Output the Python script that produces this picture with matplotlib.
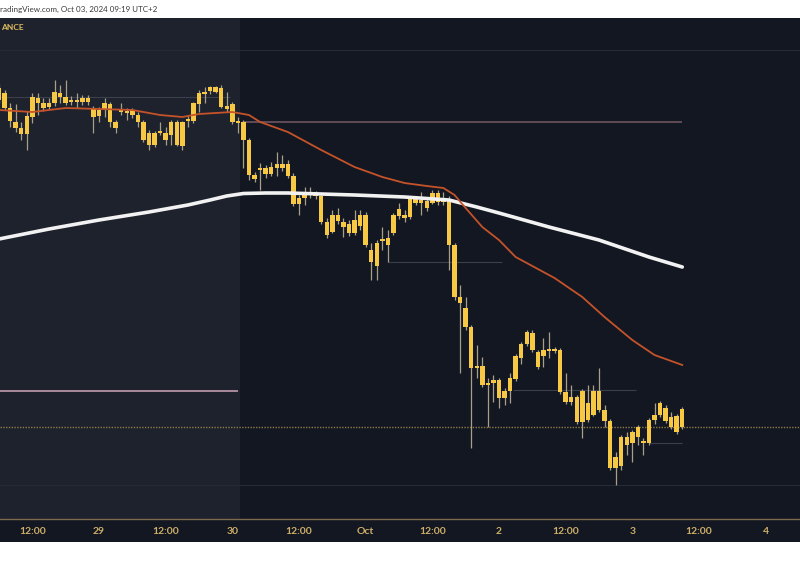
import matplotlib
matplotlib.use("Agg")
import matplotlib.pyplot as plt
from matplotlib.patches import Rectangle

# ---- data: hourly candles, hours counted from Sep 29 00:00 (UTC+2) ----
hours = list(range(-18, 106))
opens = [63000, 63070, 62920, 62780, 62720, 62660, 62830, 63020, 62970, 62930,
         62970, 63070, 63030, 62980, 63000, 62980, 63020, 62910, 62840, 62900,
         62960, 62780, 62880, 62890, 62900, 62850, 62780, 62670, 62550, 62670,
         62670, 62650, 62780, 62540, 62790, 62790, 62960, 63060, 63090, 63130,
         63120, 62940, 62960, 62790, 62780, 62600, 62250, 62300, 62320, 62260,
         62320, 62360, 62360, 62240, 61960, 62020, 62070, 62060, 62040, 61780,
         61680, 61850, 61780, 61760, 61670, 61740, 61850, 61500, 61340, 61590,
         61620, 61670, 61840, 61850, 61830, 62010, 61970, 61990, 61970, 62070,
         61980, 62000, 61550, 61030, 60920, 60730, 60320, 60340, 60150, 60170,
         60200, 60020, 60090, 60210, 60420, 60560, 60670, 60480, 60440, 60500,
         60490, 60500, 60080, 59980, 60030, 59780, 59970, 59850, 60090, 59900,
         59790, 59320, 59340, 59630, 59570, 59630, 59590, 59570, 59800, 59850,
         59920, 59830, 59840, 59730]
highs = [63160, 63100, 62970, 62960, 62780, 62890, 63070, 63070, 63020, 63020,
         63200, 63150, 63200, 63040, 63070, 63050, 63050, 62940, 62930, 63020,
         62980, 62800, 62970, 62920, 62920, 62880, 62800, 62700, 62690, 62780,
         62730, 62800, 62800, 62790, 62840, 62980, 63100, 63130, 63140, 63140,
         63150, 63080, 62980, 62830, 62800, 62620, 62280, 62370, 62350, 62380,
         62480, 62450, 62400, 62270, 62050, 62130, 62130, 62090, 62060, 61820,
         61900, 61920, 61820, 61800, 61900, 61900, 61880, 61570, 61600, 61730,
         61700, 61870, 61970, 61900, 62040, 62040, 62080, 62020, 62100, 62100,
         62080, 62040, 61570, 61150, 61030, 60750, 60550, 60430, 60220, 60250,
         60220, 60120, 60270, 60460, 60580, 60700, 60700, 60500, 60620, 60680,
         60530, 60520, 60270, 60150, 60050, 60110, 60150, 60150, 60320, 59950,
         59810, 59480, 59650, 59680, 59700, 59750, 59620, 59820, 59970, 59990,
         59950, 59880, 59860, 59930]
lows = [62970, 62900, 62730, 62680, 62600, 62500, 62770, 62850, 62890, 62910,
        62940, 62970, 62950, 62950, 62920, 62950, 62950, 62670, 62780, 62830,
        62730, 62670, 62850, 62800, 62820, 62730, 62580, 62500, 62530, 62650,
        62550, 62550, 62540, 62500, 62730, 62770, 62880, 62970, 63060, 63070,
        62920, 62880, 62760, 62670, 62320, 62200, 62180, 62100, 62220, 62240,
        62240, 62290, 62220, 61940, 61850, 61950, 62020, 62010, 61760, 61620,
        61670, 61760, 61630, 61640, 61650, 61700, 61530, 61200, 61200, 61500,
        61380, 61650, 61810, 61780, 61810, 61950, 61850, 61890, 61960, 61950,
        61950, 61300, 61000, 60270, 60700, 59520, 60220, 60130, 59730, 59980,
        59920, 59950, 59970, 60190, 60360, 60540, 60480, 60310, 60330, 60420,
        60470, 60060, 59960, 59950, 59760, 59620, 59780, 59840, 59880, 59730,
        59300, 59150, 59300, 59450, 59380, 59550, 59450, 59550, 59760, 59830,
        59770, 59710, 59660, 59710]
closes = [63120, 62920, 62790, 62720, 62660, 62840, 63030, 62970, 62920, 62970,
          63080, 63030, 62970, 63000, 62980, 63020, 62980, 62830, 62900, 62970,
          62780, 62720, 62900, 62870, 62850, 62780, 62600, 62550, 62670, 62690,
          62600, 62780, 62550, 62780, 62810, 62970, 63070, 63080, 63130, 63080,
          62930, 62910, 62780, 62770, 62600, 62250, 62210, 62320, 62260, 62330,
          62360, 62320, 62240, 61960, 62020, 62070, 62060, 62040, 61780, 61650,
          61850, 61790, 61730, 61670, 61800, 61850, 61550, 61380, 61570, 61610,
          61550, 61850, 61910, 61820, 62020, 61970, 62000, 61920, 62070, 61980,
          62020, 61550, 61030, 60970, 60730, 60320, 60340, 60150, 60170, 60200,
          60020, 60090, 60220, 60440, 60560, 60680, 60500, 60330, 60500, 60490,
          60500, 60080, 59980, 60030, 59780, 60090, 59800, 60090, 59900, 59790,
          59320, 59430, 59630, 59550, 59680, 59730, 59570, 59800, 59850, 59970,
          59790, 59730, 59680, 59910]

# moving averages
ema50_hours = [-18, -12, -6, 0, 6, 11, 15, 18, 24, 27, 29, 34, 40, 46, 51, 55,
               59, 62, 64, 66, 69, 72, 75, 82, 87, 91, 96, 100, 105]
ema50_vals = [62900, 62880, 62920, 62910, 62900, 62850, 62830, 62860, 62880,
              62850, 62780, 62680, 62500, 62330, 62230, 62170, 62140, 62120,
              62050, 61920, 61730, 61600, 61430, 61220, 61030, 60830, 60600,
              60450, 60350]
ema200_hours = [-18, -9, 0, 9, 16, 20, 23, 26, 30, 34, 46, 55, 63, 68, 72, 81,
                90, 99, 105]
ema200_vals = [61610, 61710, 61800, 61880, 61950, 62000, 62040, 62065, 62070,
               62070, 62050, 62030, 62000, 61930, 61870, 61730, 61600, 61430,
               61330]

tick_hours = [-12, 0, 12, 24, 36, 48, 60, 72, 84, 96, 108, 120]
tick_labels = ['12:00', '29', '12:00', '30', '12:00', 'Oct', '12:00', '2',
               '12:00', '3', '12:00', '4']

# reference levels
level_upper = 62785
level_left = 60095
level_dotted = 59730
grid_levels = [63500, 59150]
faint_segments = [(63030, -18, 23.6), (61380, 52, 72.5), (60100, 74.5, 96.6),
                  (59570, 99, 105)]

# ---- figure ----
W, H = 800, 566
fig = plt.figure(figsize=(W / 100, H / 100), dpi=100)
fig.patch.set_facecolor('white')


def fy(py):
    return 1 - py / H


fig.patches.append(Rectangle((0, fy(542)), 1, fy(18) - fy(542),
                             transform=fig.transFigure, facecolor='#131722',
                             edgecolor='none', zorder=-5))

ax = fig.add_axes([0, fy(519), 1, fy(18) - fy(519)])
ax.set_zorder(2)
ax.set_facecolor('#131722')
x_left = -99 / 5.555
x_right = (800 - 99) / 5.555
ax.set_xlim(x_left, x_right)
ax.set_ylim(58810, 63820)

# weekend shading
ax.axvspan(x_left, 25.4, color='#1e222d', zorder=0, lw=0)

for g in grid_levels:
    ax.axhline(g, color='#262a35', lw=0.8, zorder=1)
for lvl, a, b in faint_segments:
    ax.hlines(lvl, a, b, color='#3b3f4b', lw=0.8, zorder=1)
ax.hlines(level_upper, 26, 105, color='#6e5560', lw=1.2, zorder=1)
ax.hlines(level_left, x_left, 25, color='#a98a9a', lw=1.4, zorder=1)
ax.axhline(level_dotted, color='#8a7a48', lw=1, ls=(0, (1, 1)), zorder=1)

# candles
ax.vlines(hours, lows, highs, color='#a89f86', lw=0.9, zorder=3)
bottoms = [min(o, c) for o, c in zip(opens, closes)]
heights = [max(abs(c - o), 18) for o, c in zip(opens, closes)]
ax.bar(hours, heights, bottom=bottoms, width=0.8, color='#f7c843',
       edgecolor='none', zorder=4)

# moving averages
ax.plot(ema200_hours, ema200_vals, color='#f2f2f2', lw=2.6, zorder=5,
        solid_capstyle='round', solid_joinstyle='round')
ax.plot(ema50_hours, ema50_vals, color='#c4532a', lw=1.3, zorder=5,
        solid_joinstyle='round')

# axes styling
ax.set_yticks([])
for s in ['top', 'left', 'right']:
    ax.spines[s].set_visible(False)
ax.spines['bottom'].set_color('#7a6c48')
ax.spines['bottom'].set_linewidth(1)
ax.set_xticks(tick_hours)
ax.set_xticklabels(tick_labels)
ax.tick_params(axis='x', length=0, pad=6, labelsize=7.5, labelcolor='#cdae68')
for lab in ax.get_xticklabels():
    lab.set_family('Lato')
    lab.set_fontweight('bold')

# header texts
fig.text(0.0, fy(9), 'radingView.com, Oct 03, 2024 09:19 UTC+2', fontsize=5.8,
         family='Lato', color='#3a3a3a', va='center', ha='left')
fig.text(0.001, fy(27), 'ANCE', fontsize=6, color='#e0bd5e', va='center',
         ha='left', fontweight='bold', family='Lato')

fig.savefig('out.png', dpi=100, facecolor=fig.get_facecolor())
